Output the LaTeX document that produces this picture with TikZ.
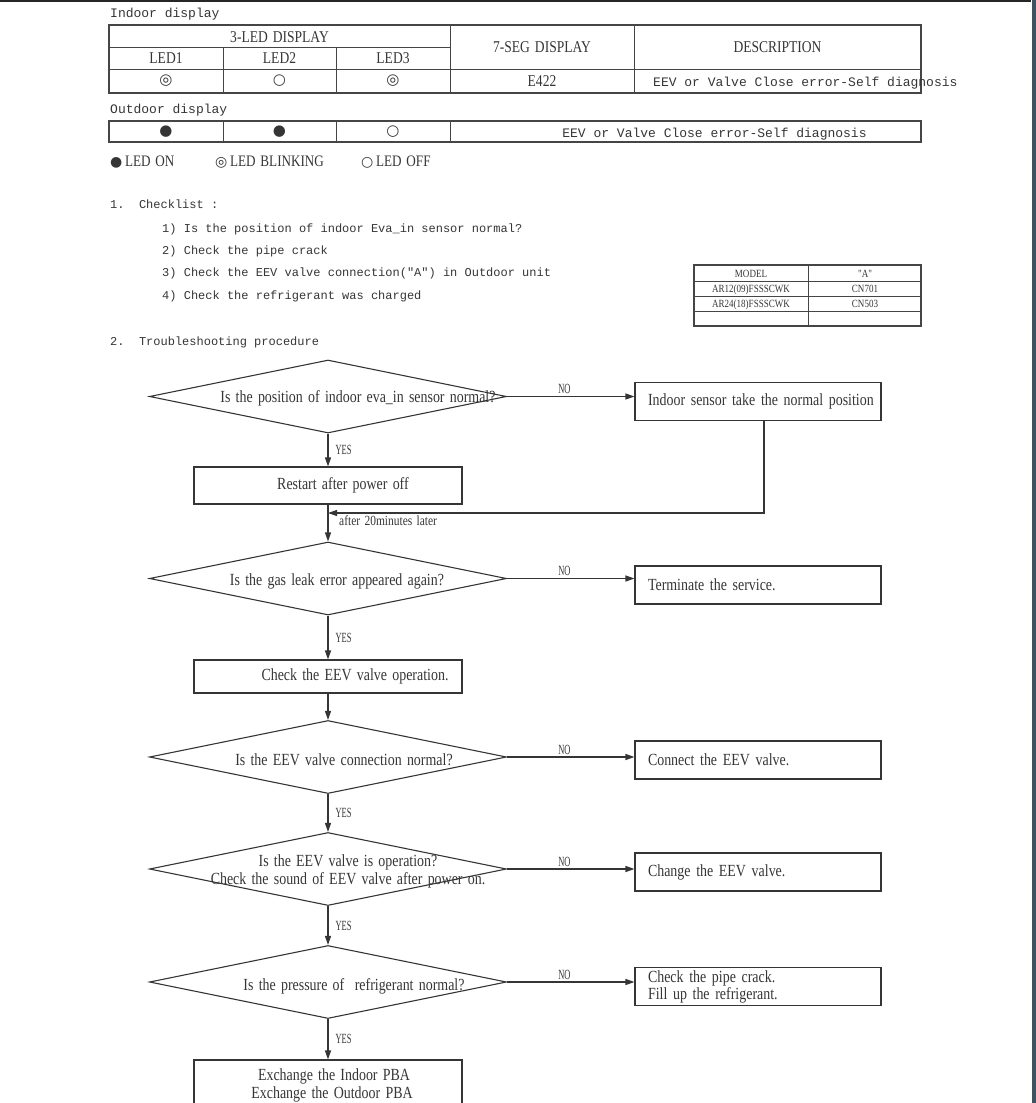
\documentclass[tikz,border=0pt]{standalone}
\usepackage{fontspec}
\setmainfont{Liberation Serif}
\newfontfamily\monofont{Liberation Mono}
\newfontfamily\symfont{DejaVu Sans}
\newfontfamily\narrowfont[FakeStretch=0.82]{Liberation Serif}
\newfontfamily\flowfont[FakeStretch=0.82,WordSpace=1.5]{Liberation Serif}
\newfontfamily\tagfont[FakeStretch=0.6]{Liberation Serif}
\usetikzlibrary{shapes.geometric,arrows.meta,positioning}

\definecolor{ink}{HTML}{353535}
\definecolor{rule}{HTML}{454545}
\definecolor{sidebar}{HTML}{3D5361}
\newcommand{\fsz}[2]{\fontsize{#1}{#2}\selectfont}

\tikzset{
	heading/.style={anchor=base west,inner sep=0pt,text=ink,font=\monofont\fsz{13}{15}},
	listitem/.style={anchor=base west,inner sep=0pt,text=ink,font=\monofont\fsz{12}{14}},
	cell/.style={anchor=base,inner sep=0pt,text=ink,font=\narrowfont\fsz{16.5}{18}},
	celltext/.style={inner sep=0pt,text=ink,font=\monofont\fsz{13}{15}},
	lamp/.style={inner sep=0pt,text=ink,font=\symfont\fsz{15}{17}},
	legend/.style={anchor=base west,inner sep=0pt,text=ink,font=\narrowfont\fsz{16}{18}},
	small/.style={anchor=base,inner sep=0pt,text=ink,font=\narrowfont\fsz{11}{12}},
	tbl/.style={draw=rule,line width=0.9pt},
	tblframe/.style={draw=rule,line width=1.6pt},
}

\begin{document}
\begin{tikzpicture}[x=1pt,y=-1pt,
	decision/.style={diamond,draw=ink,line width=1.1pt,minimum width=357pt,minimum height=73pt,inner sep=0pt},
	qtext/.style={inner sep=0pt,text=ink,align=center,font=\flowfont\fsz{17}{18}},
	stepbox/.style={rectangle,draw=ink,line width=1.1pt,minimum width=268pt,minimum height=37pt,inner sep=0pt,align=center,text=ink,font=\flowfont\fsz{17}{18}},
	actbox/.style={rectangle,draw=ink,line width=1.1pt,minimum width=246pt,minimum height=38pt,text width=220pt,inner xsep=13pt,inner ysep=0pt,align=left,text=ink,font=\flowfont\fsz{17}{17}},
	flow/.style={draw=ink,line width=1.2pt,-{Triangle[length=9pt,width=6pt]}},
	yesno/.style={inner sep=2pt,text=ink,font=\tagfont\fsz{14}{15}},
	]
	\useasboundingbox (0,0) rectangle (1036,1103);
	\clip (0,0) rectangle (1036,1103);
	\draw [line width=2pt,black!85] (0,1) -- (1031,1);
	\fill [sidebar] (1032,0) rectangle (1036,1103);

	% indoor display table
	\node[heading] (indoor) at (110,17) {Indoor display};
	\draw [tblframe] (109,25) rectangle (921,93);
	\draw [tbl] (109,47) -- (450,47);
	\draw [tbl] (109,69) -- (921,69);
	\draw [tbl] (223,47) -- (223,93);
	\draw [tbl] (336,47) -- (336,93);
	\draw [tbl] (450,25) -- (450,93);
	\draw [tbl] (634,25) -- (634,93);
	\node[cell] (hled) at (279.5,42) {3-LED DISPLAY};
	\node[cell] (hseg) at (542,52) {7-SEG DISPLAY};
	\node[cell] (hdesc) at (777.5,52) {DESCRIPTION};
	\node[cell] (hled1) at (166,63) {LED1};
	\node[cell] (hled2) at (279.5,63) {LED2};
	\node[cell] (hled3) at (393,63) {LED3};
	\node[lamp] (iled1) at (166,81) {◎};
	\node[lamp] (iled2) at (279.5,81) {○};
	\node[lamp] (iled3) at (393,81) {◎};
	\node[cell] (icode) at (542,86) {E422};
	\node[celltext,anchor=base west] (idesc) at (653,86) {EEV or Valve Close error-Self diagnosis};

	% outdoor display table
	\node[heading] (outdoor) at (110,113) {Outdoor display};
	\draw [tblframe] (109,121) rectangle (921,142);
	\foreach \x in {223,336,450}
		\draw [tbl] (\x,121) -- (\x,142);
	\node[lamp] (oled1) at (166,132) {●};
	\node[lamp] (oled2) at (279.5,132) {●};
	\node[lamp] (oled3) at (393,132) {○};
	\node[celltext,anchor=base] (odesc) at (714.5,137) {EEV or Valve Close error-Self diagnosis};

	% legend
	\node[legend] (lon) at (110,166) {{\symfont\fsz{14}{16}●}\,LED ON};
	\node[legend] (lblink) at (215,166) {{\symfont\fsz{14}{16}◎}\,LED BLINKING};
	\node[legend] (loff) at (361,166) {{\symfont\fsz{14}{16}○}\,LED OFF};

	% checklist
	\node[listitem] (check) at (110,208) {1.\ \ Checklist :};
	\node[listitem] (c1) at (162,232) {1) Is the position of indoor Eva\_in sensor normal?};
	\node[listitem] (c2) at (162,254) {2) Check the pipe crack};
	\node[listitem] (c3) at (162,276) {3) Check the EEV valve connection("A") in Outdoor unit};
	\node[listitem] (c4) at (162,299) {4) Check the refrigerant was charged};
	\node[listitem] (proc) at (110,345) {2.\ \ Troubleshooting procedure};

	% model table
	\draw [tblframe] (694,265) rectangle (921,326);
	\draw [tbl] (694,281) -- (921,281);
	\draw [tbl] (694,296) -- (921,296);
	\draw [tbl] (694,311) -- (921,311);
	\draw [tbl] (808,265) -- (808,326);
	\node[small] (mhead) at (751,277) {MODEL};
	\node[small] (ahead) at (865,277) {"A"};
	\node[small] (m1) at (751,292) {AR12(09)FSSSCWK};
	\node[small] (a1) at (865,292) {CN701};
	\node[small] (m2) at (751,307) {AR24(18)FSSSCWK};
	\node[small] (a2) at (865,307) {CN503};

	% flowchart
	\node[decision] (q1) at (328,396.5) {};
	\node[qtext] (t1) at ([xshift=30pt,yshift=-1.5pt]q1.center) {Is the position of indoor eva\_in sensor normal?};
	\node[actbox] (r1) at (758,401.5) {\mbox{Indoor sensor take the normal position}};
	\node[stepbox] (b1) at (328,485.5) {\hspace*{30pt}Restart after power off};
	\coordinate (back) at (328,513);

	\node[decision] (q2) at (328,578.5) {};
	\node[qtext] (t2) at ([xshift=9pt,yshift=-2.5pt]q2.center) {Is the gas leak error appeared again?};
	\node[actbox] (r2) at (758,585) {Terminate the service.};
	\node[stepbox,minimum height=33pt] (b2) at (328,676.5) {\hspace*{54pt}Check the EEV valve operation.};

	\node[decision] (q3) at (328,757) {};
	\node[qtext] (t3) at ([xshift=16pt,yshift=-3pt]q3.center) {Is the EEV valve connection normal?};
	\node[actbox] (r3) at (758,760) {Connect the EEV valve.};

	\node[decision] (q4) at (328,869) {};
	\node[qtext] (t4) at ([xshift=20pt,yshift=-2pt]q4.center) {Is the EEV valve is operation?\\Check the sound of EEV valve after power on.};
	\node[actbox] (r4) at (758,872) {Change the EEV valve.};

	\node[decision] (q5) at (328,982) {};
	\node[qtext] (t5) at ([xshift=26pt,yshift=-4pt]q5.center) {Is the pressure of\ \ refrigerant normal?};
	\node[actbox] (r5) at (758,986.5) {Check the pipe crack.\\Fill up the refrigerant.};
	\node[stepbox,minimum height=50pt] (b3) at (328,1085) {\hspace*{12pt}Exchange the Indoor PBA\\\hspace*{8pt}Exchange the Outdoor PBA};

	\draw [flow] (q1.east) -- node[yesno,above,pos=0.45]{NO} (q1.east -| r1.west);
	\draw [flow] (q1) -- node[yesno,right,xshift=5pt]{YES} (b1);
	\draw [flow] ([xshift=6pt]r1.south) |- (back);
	\node[qtext,anchor=west,font=\flowfont\fsz{14}{15}] (later) at (339,521) {after 20minutes later};
	\draw [flow] (b1) -- (q2);
	\draw [flow] (q2.east) -- node[yesno,above,pos=0.45]{NO} (q2.east -| r2.west);
	\draw [flow] (q2) -- node[yesno,right,xshift=5pt]{YES} (b2);
	\draw [flow] (b2) -- (q3);
	\draw [flow] (q3.east) -- node[yesno,above,pos=0.45]{NO} (q3.east -| r3.west);
	\draw [flow] (q3) -- node[yesno,right,xshift=5pt]{YES} (q4);
	\draw [flow] (q4.east) -- node[yesno,above,pos=0.45]{NO} (q4.east -| r4.west);
	\draw [flow] (q4) -- node[yesno,right,xshift=5pt]{YES} (q5);
	\draw [flow] (q5.east) -- node[yesno,above,pos=0.45]{NO} (q5.east -| r5.west);
	\draw [flow] (q5) -- node[yesno,right,xshift=5pt]{YES} (b3);
\end{tikzpicture}
\end{document}
